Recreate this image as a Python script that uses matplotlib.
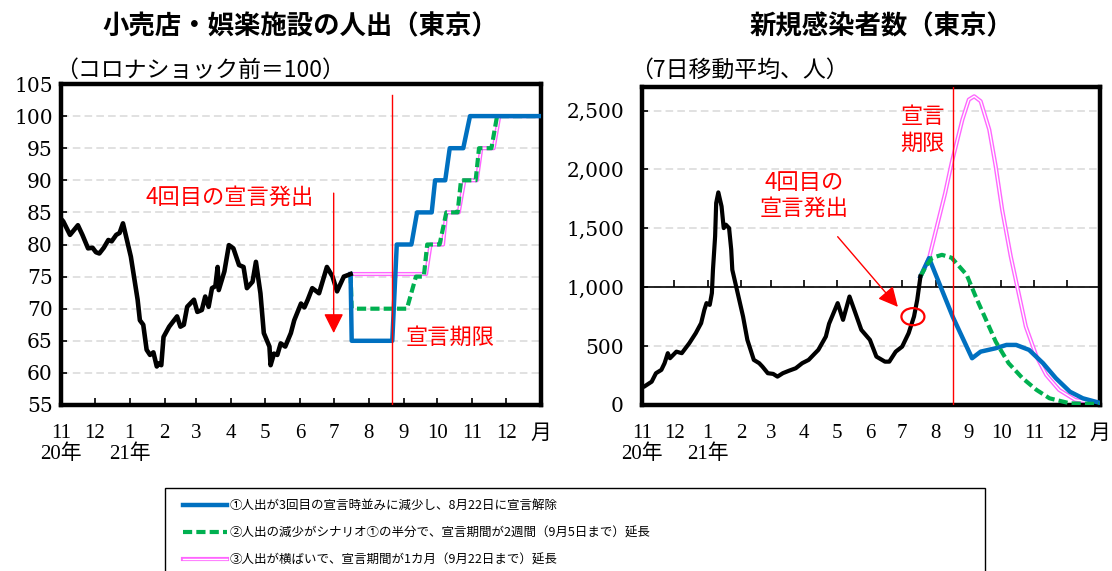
import matplotlib
matplotlib.use("Agg")
import matplotlib.pyplot as plt
import matplotlib.dates as mdates
from matplotlib.lines import Line2D
from matplotlib.patches import Ellipse, Rectangle
from matplotlib.legend_handler import HandlerTuple
import pandas as pd

plt.rcParams["font.family"] = ["Noto Sans CJK JP", "DejaVu Sans"]

# ---------------- data: retail & recreation mobility, Tokyo (pre-COVID = 100) ----------------
mob_dates = ["2020-11-01", "2020-11-03", "2020-11-09", "2020-11-16", "2020-11-20", "2020-11-25", "2020-11-29",
             "2020-12-02", "2020-12-05", "2020-12-09", "2020-12-13", "2020-12-16", "2020-12-20", "2020-12-23", "2020-12-26",
             "2021-01-02", "2021-01-08", "2021-01-10", "2021-01-13", "2021-01-16", "2021-01-19", "2021-01-22", "2021-01-25",
             "2021-01-27", "2021-01-29", "2021-01-31",
             "2021-02-05", "2021-02-12", "2021-02-15", "2021-02-18", "2021-02-21", "2021-02-27",
             "2021-03-02", "2021-03-06", "2021-03-09", "2021-03-12", "2021-03-15", "2021-03-18", "2021-03-20", "2021-03-21",
             "2021-03-26", "2021-03-30",
             "2021-04-03", "2021-04-08", "2021-04-12", "2021-04-15", "2021-04-20", "2021-04-23", "2021-04-27", "2021-04-30",
             "2021-05-05", "2021-05-06", "2021-05-09", "2021-05-12", "2021-05-15", "2021-05-19", "2021-05-24", "2021-05-27",
             "2021-06-02", "2021-06-05", "2021-06-08", "2021-06-12", "2021-06-18", "2021-06-25", "2021-06-30",
             "2021-07-04", "2021-07-10", "2021-07-16"]
mob_values = [84.0, 83.6, 81.5, 83.0, 81.5, 79.4, 79.5,
              78.8, 78.6, 79.5, 80.7, 80.5, 81.5, 81.8, 83.3,
              78.1, 71.4, 68.2, 67.5, 63.6, 62.8, 63.2, 61.0, 61.5, 61.2, 65.6,
              67.2, 68.8, 67.2, 67.5, 70.3, 71.4,
              69.5, 69.8, 71.9, 70.3, 73.2, 73.5, 76.5, 72.9, 75.8, 79.9,
              79.4, 76.8, 76.5, 73.2, 74.2, 77.3, 72.4, 66.2,
              64.1, 61.2, 63.0, 62.8, 64.6, 64.1, 66.2, 68.2,
              70.8, 70.2, 71.4, 73.2, 72.4, 76.5, 75.0,
              72.7, 75.0, 75.4]

# scenario ① : mobility falls to the 3rd-emergency level, lifted on Aug 22
mob_s1_dates = ["2021-07-16", "2021-07-17", "2021-08-22", "2021-08-26", "2021-09-08", "2021-09-13", "2021-09-26",
                "2021-09-29", "2021-10-08", "2021-10-12", "2021-10-24", "2021-10-30", "2021-12-31"]
mob_s1_values = [75.4, 65, 65, 80, 80, 85, 85, 90, 90, 95, 95, 100, 100]
# scenario ② : half the decline, emergency extended two weeks
mob_s2_dates = ["2021-07-16", "2021-07-17", "2021-09-04", "2021-09-12", "2021-09-19", "2021-09-22", "2021-10-03",
                "2021-10-09", "2021-10-19", "2021-10-22", "2021-11-04", "2021-11-07", "2021-11-18", "2021-11-23", "2021-12-31"]
mob_s2_values = [75.4, 70, 70, 75, 75, 80, 80, 85, 85, 90, 90, 95, 95, 100, 100]
# scenario ③ : mobility flat, emergency extended one month
mob_s3_dates = ["2021-07-16", "2021-09-21", "2021-09-25", "2021-10-06", "2021-10-09", "2021-10-20", "2021-10-25",
                "2021-11-05", "2021-11-09", "2021-11-20", "2021-11-25", "2021-12-31"]
mob_s3_values = [75.4, 75.4, 80, 80, 85, 85, 90, 90, 95, 95, 100, 100]

# ---------------- data: new infections, Tokyo (7-day average, persons) ----------------
case_dates = ["2020-11-01", "2020-11-03", "2020-11-10", "2020-11-14", "2020-11-19", "2020-11-22", "2020-11-25", "2020-11-27",
              "2020-12-03", "2020-12-08", "2020-12-15", "2020-12-21", "2020-12-26", "2020-12-29", "2020-12-31",
              "2021-01-03", "2021-01-05", "2021-01-06", "2021-01-08", "2021-01-09", "2021-01-11", "2021-01-14", "2021-01-16",
              "2021-01-18", "2021-01-21", "2021-01-23", "2021-01-24", "2021-01-29",
              "2021-02-03", "2021-02-07", "2021-02-10", "2021-02-13", "2021-02-18", "2021-02-21", "2021-02-26",
              "2021-03-03", "2021-03-07", "2021-03-12", "2021-03-18", "2021-03-24", "2021-03-30",
              "2021-04-05", "2021-04-11", "2021-04-14", "2021-04-21", "2021-04-24",
              "2021-05-02", "2021-05-07", "2021-05-13", "2021-05-18", "2021-05-24",
              "2021-06-01", "2021-06-07", "2021-06-15", "2021-06-19", "2021-06-25",
              "2021-07-01", "2021-07-07", "2021-07-12", "2021-07-15", "2021-07-18"]
case_values = [150, 156, 198, 270, 298, 355, 440, 397,
               453, 440, 525, 610, 695, 808, 865,
               850, 950, 1148, 1431, 1715, 1805, 1686, 1502, 1531, 1502, 1318, 1148, 950,
               751, 553, 468, 383, 355, 326, 270,
               264, 241, 270, 292, 312, 355,
               383, 440, 468, 581, 690,
               865, 723, 921, 793, 638,
               553, 411, 368, 368, 453,
               496, 610, 751, 893, 1091]

case_s1_dates = ["2021-07-18", "2021-07-26", "2021-08-17", "2021-09-04", "2021-09-12", "2021-09-26", "2021-10-06",
                 "2021-10-15", "2021-10-27", "2021-11-09", "2021-11-21", "2021-12-04", "2021-12-16", "2021-12-31"]
case_s1_values = [1091, 1247, 750, 397, 453, 482, 510, 510, 468, 355, 227, 113, 57, 20]
case_s2_dates = ["2021-07-18", "2021-07-23", "2021-07-29", "2021-08-07", "2021-08-16", "2021-08-30", "2021-09-08",
                 "2021-09-17", "2021-09-26", "2021-10-08", "2021-10-21", "2021-11-03", "2021-11-15", "2021-12-04", "2021-12-31"]
case_s2_values = [1091, 1176, 1250, 1275, 1250, 1105, 907, 723, 538, 355, 227, 128, 57, 14, 8]
case_s3_dates = ["2021-07-18", "2021-07-26", "2021-08-10", "2021-08-16", "2021-08-26", "2021-09-01", "2021-09-06",
                 "2021-09-12", "2021-09-20", "2021-09-26", "2021-10-02", "2021-10-10", "2021-10-16", "2021-10-24",
                 "2021-11-03", "2021-11-12", "2021-11-24", "2021-12-09", "2021-12-31"]
case_s3_values = [1091, 1247, 1800, 2055, 2423, 2593, 2621, 2579, 2338, 2026, 1658, 1261, 1006, 666,
                  411, 255, 128, 43, 14]

month_labels = ["11\n20年", "12", "1\n21年", "2", "3", "4", "5", "6", "7", "8", "9", "10", "11", "12", "月"]
case_ytick_labels = ["0", "500", "1,000", "1,500", "2,000", "2,500"]
legend_labels = ["①人出が3回目の宣言時並みに減少し、8月22日に宣言解除",
                 "②人出の減少がシナリオ①の半分で、宣言期間が2週間（9月5日まで）延長",
                 "③人出が横ばいで、宣言期間が1カ月（9月22日まで）延長"]

# ---------------- styling ----------------
BLUE, GREEN, PINK, RED, GRID = "#0070C0", "#00B050", "#FF66FF", "#FF0000", "#D9D9D9"
GREEN_DASH = (0, (2.2, 1.0))
SERIF_X = ["Liberation Serif", "Noto Sans CJK JP"]
SERIF_Y = ["DejaVu Serif", "Noto Sans CJK JP"]
SPINE_W = 3.2

W, H = 1112, 571
fig = plt.figure(figsize=(W / 100, H / 100), dpi=100)
axL = fig.add_axes([61 / W, 1 - 405 / H, 480 / W, 321 / H])
axR = fig.add_axes([642 / W, 1 - 405 / H, 458 / W, 318 / H])

d = pd.to_datetime
x_start, x_end = d("2020-11-01"), d("2022-01-01")
month_ticks = pd.date_range(x_start, x_end, freq="MS")


def frame(ax, ylab_pad):
    for sp in ax.spines.values():
        sp.set_linewidth(SPINE_W)
        sp.set_color("black")
    ax.set_xlim(x_start, x_end)
    ax.set_xticks(month_ticks)
    ax.set_xticklabels(month_labels)
    ax.yaxis.grid(True, color=GRID, lw=1.1, linestyle=(0, (5, 2.7)))
    ax.set_axisbelow(True)
    ax.tick_params(axis="y", direction="in", length=4, width=1.2, pad=ylab_pad)
    for lbl in ax.get_yticklabels():
        lbl.set_fontfamily(SERIF_Y)
        lbl.set_fontsize(14.5)
    for lbl in ax.get_xticklabels():
        lbl.set_fontfamily(SERIF_X)
        lbl.set_fontsize(15)
        lbl.set_linespacing(1.05)


def pink_double(ax, x, y, z):
    ax.plot(x, y, color=PINK, lw=3.0, zorder=z)
    ax.plot(x, y, color="white", lw=1.0, zorder=z + 0.1)


# ---------------- left panel ----------------
axL.set_ylim(55, 105)
axL.set_yticks(range(55, 106, 5))
frame(axL, 6)
axL.tick_params(axis="x", direction="in", length=5, width=1.2, pad=14)

pink_double(axL, d(mob_s3_dates), mob_s3_values, 2)
axL.plot(d(mob_s2_dates), mob_s2_values, color=GREEN, lw=3.0, linestyle=GREEN_DASH, zorder=3)
axL.plot(d(mob_s1_dates), mob_s1_values, color=BLUE, lw=3.2, zorder=4)
axL.plot(d(mob_dates), mob_values, color="black", lw=3.3, zorder=5)

axL.plot([d("2021-08-22")] * 2, [55, 103.3], color=RED, lw=1, zorder=6)
axL.annotate("", xy=(d("2021-07-01"), 66.2), xytext=(d("2021-07-01"), 88.0),
             arrowprops=dict(arrowstyle="-|>,head_length=0.6,head_width=0.3", color=RED, lw=1,
                             mutation_scale=20, shrinkA=0, shrinkB=0), zorder=6)
axL.text(d("2021-03-31"), 87.4, "4回目の宣言発出", color=RED, fontsize=16, ha="center", va="center")
axL.text(d("2021-10-12"), 65.6, "宣言期限", color=RED, fontsize=16, ha="center", va="center")

# ---------------- right panel ----------------
R_YMAX = 2700
axR.set_ylim(0, R_YMAX)
axR.set_yticks(range(0, 2501, 500))
axR.set_yticklabels(case_ytick_labels)
frame(axR, 13)
axR.tick_params(axis="x", length=0, pad=14)

# horizontal axis crossing at 1,000, with short upward month ticks
axR.axhline(1000, color="black", lw=1.2, zorder=1.5)
axR.vlines(month_ticks[1:-1], 1000, 1060, color="black", lw=1.2, zorder=1.5)

pink_double(axR, d(case_s3_dates), case_s3_values, 2)
axR.plot(d(case_s1_dates), case_s1_values, color=BLUE, lw=3.2, zorder=3)
axR.plot(d(case_s2_dates), case_s2_values, color=GREEN, lw=3.0, linestyle=GREEN_DASH, zorder=4)
axR.plot(d(case_dates), case_values, color="black", lw=3.0, zorder=5)

axR.axvline(d("2021-08-17"), color=RED, lw=1, zorder=6)
axR.add_patch(Ellipse((mdates.date2num(d("2021-07-11")), 750), width=21.4, height=145,
                      fill=False, ec=RED, lw=1.6, zorder=7))
axR.annotate("", xy=(d("2021-06-27"), 833), xytext=(d("2021-05-02"), 1429),
             arrowprops=dict(arrowstyle="-|>,head_length=0.6,head_width=0.3", color=RED, lw=1,
                             mutation_scale=20, shrinkA=0, shrinkB=0), zorder=6)
axR.text(d("2021-04-01"), 1777, "4回目の\n宣言発出", color=RED, fontsize=16, ha="center", va="center",
         linespacing=1.15)
axR.text(d("2021-07-20"), 2338, "宣言\n期限", color=RED, fontsize=16, ha="center", va="center",
         linespacing=1.2)

# ---------------- titles ----------------
fig.text(300 / W, 1 - 27 / H, "小売店・娯楽施設の人出（東京）", fontsize=19, fontweight="bold",
         ha="center", va="center")
fig.text(881 / W, 1 - 27 / H, "新規感染者数（東京）", fontsize=19, fontweight="bold",
         ha="center", va="center")
fig.text(55 / W, 1 - 70 / H, "（コロナショック前＝100）", fontsize=16.5, ha="left", va="center")
fig.text(630 / W, 1 - 70 / H, "（7日移動平均、人）", fontsize=16.5, ha="left", va="center")

# ---------------- legend ----------------
h_blue = Line2D([], [], color=BLUE, lw=3.2)
h_green = Line2D([], [], color=GREEN, lw=3.0, linestyle=GREEN_DASH)
h_pink = (Line2D([], [], color=PINK, lw=3.0), Line2D([], [], color="white", lw=1.0))
fig.legend([h_blue, h_green, h_pink], legend_labels, loc="upper left",
           bbox_to_anchor=(183 / W, 1 - 499 / H), frameon=False, borderpad=0, borderaxespad=0,
           handlelength=3.5, handletextpad=0.25, labelspacing=1.15, fontsize=9.0,
           handler_map={tuple: HandlerTuple(ndivide=1)})
fig.add_artist(Rectangle((165 / W, -0.05), 820 / W, 0.05 + 1 - 488 / H, transform=fig.transFigure,
                         fill=False, ec="black", lw=1))

fig.savefig("out.png", dpi=100)
